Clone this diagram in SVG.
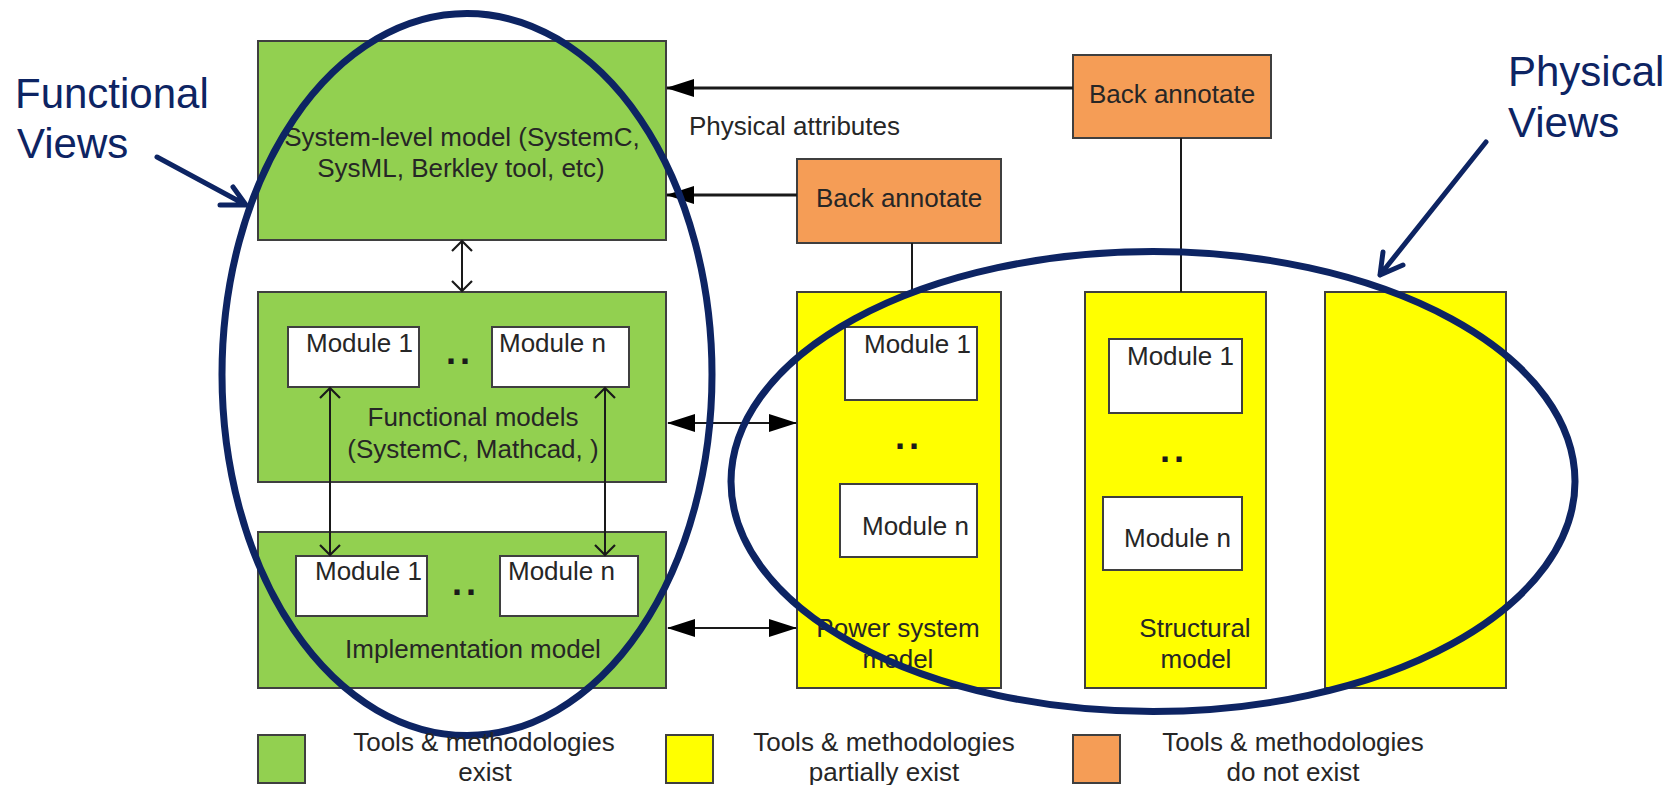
<svg xmlns="http://www.w3.org/2000/svg" width="1675" height="785" viewBox="0 0 1675 785">
<style>
.t{font-family:"Liberation Sans",Arial,sans-serif;font-size:26px;fill:#262626}
.m{text-anchor:middle}
.dots{font-family:"Liberation Sans",Arial,sans-serif;font-size:36px;font-weight:bold;fill:#1a1a1a;letter-spacing:4px}
.blue{font-family:"Liberation Sans",Arial,sans-serif;font-size:42px;fill:#0d2463}
.green{fill:#92D050;stroke:#3f3f3f;stroke-width:2}
.yellow{fill:#FFFF00;stroke:#3f3f3f;stroke-width:2}
.orange{fill:#F59D56;stroke:#3f3f3f;stroke-width:2}
.mod{fill:#ffffff;stroke:#3f3f3f;stroke-width:2}
.ln{stroke:#1a1a1a;stroke-width:2;fill:none}
.lnb{stroke:#1a1a1a;stroke-width:3;fill:none}
.ell{fill:none;stroke:#0d2463;stroke-width:7}
.barr{fill:none;stroke:#0d2463;stroke-width:5;stroke-linecap:round;stroke-linejoin:round}
</style>
<defs>
<marker id="fill" markerUnits="userSpaceOnUse" markerWidth="28" markerHeight="18" viewBox="0 0 28 18" refX="27" refY="9" orient="auto-start-reverse">
<path d="M0,0 L28,9 L0,18 z" fill="#000"/>
</marker>
<marker id="open" markerUnits="userSpaceOnUse" markerWidth="14" markerHeight="24" viewBox="0 0 14 24" refX="12" refY="12" orient="auto-start-reverse" overflow="visible">
<path d="M2,2 L12,12 L2,22" fill="none" stroke="#1a1a1a" stroke-width="2.2"/>
</marker>
</defs>

<g id="system-level">
<rect class="green" x="258" y="41" width="408" height="199"/>
<text class="t m" x="462" y="146">System-level model (SystemC,</text>
<text class="t m" x="461" y="177">SysML, Berkley tool, etc)</text>
</g>

<g id="functional-models">
<rect class="green" x="258" y="292" width="408" height="190"/>
<text class="t m" x="473" y="426">Functional models</text>
<text class="t m" x="473" y="458">(SystemC, Mathcad, )</text>
</g>
<g id="func-module-1"><rect class="mod" x="288" y="327" width="131" height="60"/><text class="t" x="306" y="352">Module 1</text></g>
<g id="func-module-n"><rect class="mod" x="492" y="327" width="137" height="60"/><text class="t" x="499" y="352">Module n</text></g>
<text class="dots" x="446" y="364">..</text>

<g id="implementation-model">
<rect class="green" x="258" y="532" width="408" height="156"/>
<text class="t m" x="473" y="658">Implementation model</text>
</g>
<g id="impl-module-1"><rect class="mod" x="296" y="556" width="131" height="60"/><text class="t" x="315" y="580">Module 1</text></g>
<g id="impl-module-n"><rect class="mod" x="500" y="556" width="138" height="60"/><text class="t" x="508" y="580">Module n</text></g>
<text class="dots" x="452" y="595">..</text>

<g id="power-system-model">
<rect class="yellow" x="797" y="292" width="204" height="396"/>
<text class="t m" x="898" y="637">Power system</text>
<text class="t m" x="898" y="668">model</text>
</g>
<g id="power-module-1"><rect class="mod" x="845" y="327" width="132" height="73"/><text class="t" x="864" y="353">Module 1</text></g>
<g id="power-module-n"><rect class="mod" x="840" y="484" width="137" height="73"/><text class="t" x="862" y="535">Module n</text></g>
<text class="dots" x="895" y="449">..</text>

<g id="structural-model">
<rect class="yellow" x="1085" y="292" width="181" height="396"/>
<text class="t m" x="1195" y="637">Structural</text>
<text class="t m" x="1196" y="668">model</text>
</g>
<g id="struct-module-1"><rect class="mod" x="1109" y="339" width="133" height="74"/><text class="t" x="1127" y="365">Module 1</text></g>
<g id="struct-module-n"><rect class="mod" x="1103" y="497" width="139" height="73"/><text class="t" x="1124" y="547">Module n</text></g>
<text class="dots" x="1160" y="462">..</text>

<g id="third-physical-view">
<rect class="yellow" x="1325" y="292" width="181" height="396"/>
</g>

<g id="back-annotate-top">
<rect class="orange" x="1073" y="55" width="198" height="83"/>
<text class="t m" x="1172" y="103">Back annotate</text>
</g>
<g id="back-annotate-lower">
<rect class="orange" x="797" y="159" width="204" height="84"/>
<text class="t m" x="899" y="207">Back annotate</text>
</g>

<g id="connectors">
<line class="lnb" x1="1073" y1="88" x2="667" y2="88" marker-end="url(#fill)"/>
<line class="lnb" x1="797" y1="195" x2="667" y2="195" marker-end="url(#fill)"/>
<line class="ln" x1="912" y1="243" x2="912" y2="292"/>
<line class="ln" x1="1181" y1="138" x2="1181" y2="292"/>
<line class="ln" x1="462" y1="241" x2="462" y2="291" marker-start="url(#open)" marker-end="url(#open)"/>
<line class="ln" x1="330" y1="388" x2="330" y2="555" marker-start="url(#open)" marker-end="url(#open)"/>
<line class="ln" x1="605" y1="388" x2="605" y2="555" marker-start="url(#open)" marker-end="url(#open)"/>
<line class="ln" x1="668" y1="423" x2="796" y2="423" marker-start="url(#fill)" marker-end="url(#fill)"/>
<line class="ln" x1="668" y1="628" x2="796" y2="628" marker-start="url(#fill)" marker-end="url(#fill)"/>
</g>

<text class="t" x="689" y="135">Physical attributes</text>

<g id="functional-views">
<ellipse class="ell" cx="467" cy="374.5" rx="245" ry="361"/>
<text class="blue" x="15" y="108">Functional</text>
<text class="blue" x="17" y="158">Views</text>
<path class="barr" d="M157,157 L246,205 M220,205 L246,205 L233,187"/>
</g>

<g id="physical-views">
<ellipse class="ell" cx="1153" cy="481.5" rx="422" ry="230"/>
<text class="blue" x="1508" y="86">Physical</text>
<text class="blue" x="1508" y="137">Views</text>
<path class="barr" d="M1486,142 L1380,275 M1383,252 L1380,275 L1403,265"/>
</g>

<g id="legend">
<rect class="green" x="258" y="735" width="47" height="48"/>
<text class="t m" x="484" y="751">Tools &amp; methodologies</text>
<text class="t m" x="485" y="781">exist</text>
<rect class="yellow" x="666" y="735" width="47" height="48"/>
<text class="t m" x="884" y="751">Tools &amp; methodologies</text>
<text class="t m" x="884" y="781">partially exist</text>
<rect class="orange" x="1073" y="735" width="47" height="48"/>
<text class="t m" x="1293" y="751">Tools &amp; methodologies</text>
<text class="t m" x="1293" y="781">do not exist</text>
</g>
</svg>
